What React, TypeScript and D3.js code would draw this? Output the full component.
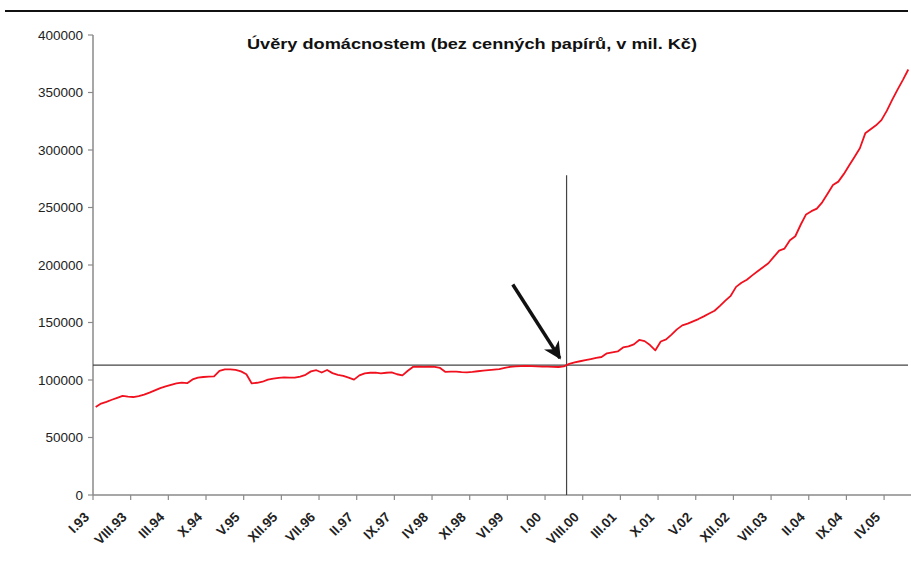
import * as d3 from "d3";
import React, { useEffect, useRef } from "react";

// monthly household loans (mil. CZK), I.93 .. VIII.05
const loans = [
  76.5, 79.5, 81, 82.8, 84.5, 86.2, 85.5, 85.2, 86, 87.3, 89, 91,
  93, 94.5, 95.8, 97, 97.8, 97.2, 100.5, 102, 102.6, 103, 103.2, 108,
  109.2, 109.3, 108.8, 107.5, 105, 97, 97.6, 98.5, 100.3, 101.2, 101.8, 102.2,
  102, 102, 103, 104.5, 107.5, 108.5, 106.5, 108.7, 106, 104.5, 103.5, 102,
  100.3, 104, 105.8, 106.3, 106.5, 105.8, 106.3, 106.7, 105, 104, 108, 111.5,
  111.6, 111.4, 111.7, 111.5, 110.5, 107, 107.3, 107.2, 106.8, 106.7, 107, 107.6,
  108.1, 108.5, 109, 109.5, 110.5, 111.4, 111.8, 112, 112.2, 112.1, 111.9, 111.7,
  111.6, 111.5, 111.3, 111.8, 114, 115.3, 116.3, 117.2, 118.2, 119.2, 120, 123.2,
  124, 124.8, 128.3, 129.2, 131, 134.8, 133.8, 130.4, 125.8, 133.5, 135.3, 139.5,
  144, 147.5, 149, 151, 153, 155.3, 157.8, 160.2, 164.5, 169, 173.2, 181,
  184.5, 187.2, 191, 194.5, 198, 201.5, 207, 212.5, 214.3, 221.5, 225, 235,
  244, 246.8, 249, 254.5, 262, 269.5, 272.5, 279, 286.5, 294, 301.5, 314.5,
  318, 321.5, 326, 334, 343.5, 352.5, 361, 370,
].map((v) => v * 1000);

const romanMonths = ["I", "II", "III", "IV", "V", "VI", "VII", "VIII", "IX", "X", "XI", "XII"];
const categories = loans.map(
  (_, i) => `${romanMonths[i % 12]}.${String((93 + Math.floor(i / 12)) % 100).padStart(2, "0")}`
);

const tickLabels = [
  "I.93", "VIII.93", "III.94", "X.94", "V.95", "XII.95", "VII.96", "II.97",
  "IX.97", "IV.98", "XI.98", "VI.99", "I.00", "VIII.00", "III.01", "X.01",
  "V.02", "XII.02", "VII.03", "II.04", "IX.04", "IV.05",
];
const yTicks = [0, 50000, 100000, 150000, 200000, 250000, 300000, 350000, 400000];

const title = "Úvěry domácnostem (bez cenných papírů, v mil. Kč)";

// reference lines and arrow annotation
const levelValue = 113000;
const markCategory = "V.00";
const markTop = 278000;
const arrowFrom = { cat: "VII.99", value: 183000 };
const arrowTo = { cat: "III.00", value: 119000 };

const App: React.FC = () => {
  const ref = useRef<SVGSVGElement>(null);

  useEffect(() => {
    if (!ref.current) return;
    const svg = d3.select(ref.current);
    svg.selectAll("*").remove();

    const left = 93;
    const right = 911;
    const top = 35;
    const bottom = 495;
    const font = "'Liberation Sans', Arial, sans-serif";
    const axisColor = "#8a8a8a";

    const x = d3.scaleBand<string>().domain(categories).range([left, right]).padding(0);
    const bw = x.bandwidth();
    const y = d3.scaleLinear().domain([0, 400000]).range([bottom, top]);

    // top rule
    svg.append("line")
      .attr("x1", 5).attr("x2", 908)
      .attr("y1", 11).attr("y2", 11)
      .attr("stroke", "#111").attr("stroke-width", 2);

    // title
    svg.append("text")
      .attr("x", 472).attr("y", 49)
      .attr("text-anchor", "middle")
      .attr("font-family", font)
      .attr("font-weight", "bold")
      .attr("font-size", 14)
      .attr("textLength", 450)
      .attr("lengthAdjust", "spacingAndGlyphs")
      .attr("fill", "#111")
      .text(title);

    // y axis
    svg.append("line")
      .attr("x1", left).attr("x2", left)
      .attr("y1", top).attr("y2", bottom)
      .attr("stroke", axisColor).attr("stroke-width", 1.5);
    const yt = svg.append("g");
    yt.selectAll("line")
      .data(yTicks)
      .enter()
      .append("line")
      .attr("x1", left - 5).attr("x2", left)
      .attr("y1", (d) => y(d)).attr("y2", (d) => y(d))
      .attr("stroke", axisColor).attr("stroke-width", 1.2);
    yt.selectAll("text")
      .data(yTicks)
      .enter()
      .append("text")
      .attr("x", left - 10)
      .attr("y", (d) => y(d))
      .attr("dy", "0.35em")
      .attr("text-anchor", "end")
      .attr("font-family", font)
      .attr("font-size", 13.5)
      .attr("fill", "#222")
      .text((d) => String(d));

    // x axis
    svg.append("line")
      .attr("x1", left).attr("x2", right)
      .attr("y1", bottom).attr("y2", bottom)
      .attr("stroke", axisColor).attr("stroke-width", 1.5);
    const xt = svg.append("g");
    xt.selectAll("line")
      .data(tickLabels)
      .enter()
      .append("line")
      .attr("x1", (d) => x(d)!).attr("x2", (d) => x(d)!)
      .attr("y1", bottom).attr("y2", bottom + 5)
      .attr("stroke", axisColor).attr("stroke-width", 1.2);
    xt.selectAll("text")
      .data(tickLabels)
      .enter()
      .append("text")
      .attr("transform", (d) => `translate(${x(d)! - 3},${bottom + 23}) rotate(-45)`)
      .attr("text-anchor", "end")
      .attr("font-family", font)
      .attr("font-weight", "bold")
      .attr("font-size", 13.5)
      .attr("fill", "#222")
      .text((d) => d);

    // reference lines
    svg.append("line")
      .attr("x1", left).attr("x2", 908)
      .attr("y1", y(levelValue)).attr("y2", y(levelValue))
      .attr("stroke", "#444").attr("stroke-width", 1.2);
    svg.append("line")
      .attr("x1", x(markCategory)!).attr("x2", x(markCategory)!)
      .attr("y1", y(markTop)).attr("y2", bottom)
      .attr("stroke", "#444").attr("stroke-width", 1.2);

    // series
    const line = d3
      .line<number>()
      .x((_, i) => x(categories[i])! + bw / 2)
      .y((d) => y(d));
    svg.append("path")
      .datum(loans)
      .attr("fill", "none")
      .attr("stroke", "#f0101e")
      .attr("stroke-width", 1.8)
      .attr("stroke-linejoin", "round")
      .attr("d", line);

    // arrow
    const defs = svg.append("defs");
    defs.append("marker")
      .attr("id", "arrowhead")
      .attr("viewBox", "0 0 10 10")
      .attr("refX", 9).attr("refY", 5)
      .attr("markerWidth", 5).attr("markerHeight", 5)
      .attr("markerUnits", "strokeWidth")
      .attr("orient", "auto")
      .append("path")
      .attr("d", "M0,0 L10,5 L0,10 L3,5 Z")
      .attr("fill", "#111");
    svg.append("line")
      .attr("x1", x(arrowFrom.cat)!).attr("y1", y(arrowFrom.value))
      .attr("x2", x(arrowTo.cat)! + bw * 0.75).attr("y2", y(arrowTo.value))
      .attr("stroke", "#111")
      .attr("stroke-width", 3.5)
      .attr("marker-end", "url(#arrowhead)");
  }, []);

  return (
    <svg
      ref={ref}
      width={911}
      height={570}
      style={{ position: "absolute", left: 0, top: 0, background: "#fff" }}
    ></svg>
  );
};

export default App;
